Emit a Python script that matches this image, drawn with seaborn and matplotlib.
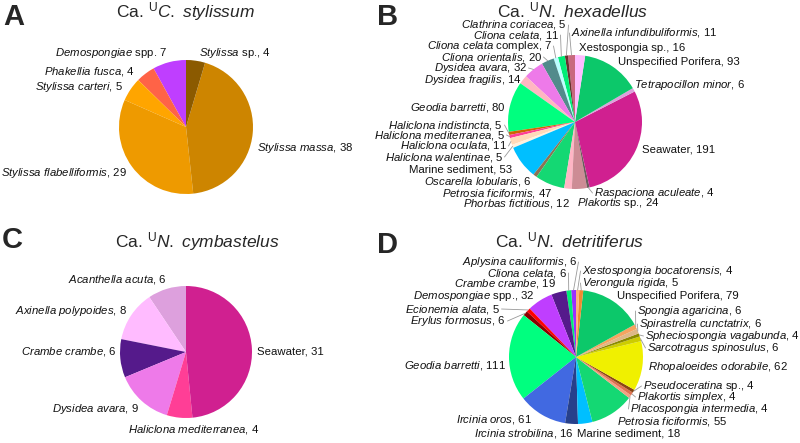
import numpy as np
import matplotlib
matplotlib.use("Agg")
import matplotlib.pyplot as plt
import seaborn as sns

sns.set_theme(style="white")
plt.rcParams['font.family'] = ['Liberation Sans', 'DejaVu Sans']
plt.rcParams['mathtext.fontset'] = 'custom'
plt.rcParams['mathtext.rm'] = 'Liberation Sans'
plt.rcParams['mathtext.it'] = 'Liberation Sans:italic'
plt.rcParams['mathtext.bf'] = 'Liberation Sans:bold'

# ---- data (slices listed counter-clockwise from 12 o'clock) ----
a_names = ["Demospongiae spp.", "Phakellia fusca", "Stylissa carteri",
           "Stylissa flabelliformis", "Stylissa massa", "Stylissa sp."]
a_values = [7, 4, 5, 29, 38, 4]
a_colors = ["#bf3eff", "#ff6347", "#ffa500", "#ee9a00", "#cd8500", "#8b5a00"]

b_names = ["Axinella infundibuliformis", "Clathrina coriacea", "Cliona celata",
           "Cliona celata complex", "Cliona orientalis", "Dysidea avara",
           "Dysidea fragilis", "Geodia barretti", "Haliclona indistincta",
           "Haliclona mediterranea", "Haliclona oculata", "Haliclona walentinae",
           "Marine sediment", "Oscarella lobularis", "Petrosia ficiformis",
           "Phorbas fictitious", "Plakortis sp.", "Raspaciona aculeate",
           "Seawater", "Tetrapocillon minor", "Unspecified Porifera",
           "Xestospongia sp."]
b_values = [11, 5, 11, 7, 20, 32, 14, 80, 5, 5, 11, 5, 53, 6, 47, 12, 24, 4,
            191, 6, 93, 16]
b_colors = ["#c8687e", "#6b3030", "#00ee76", "#bbffff", "#528b8b", "#ee7ae9",
            "#ffb6c1", "#00ff7f", "#cd6600", "#ff3e96", "#ffdab9", "#fff0dc",
            "#00bfff", "#8b7355", "#14d873", "#ffb5c5", "#cd8c95", "#6b5b5b",
            "#d02090", "#dda0dd", "#0cc86a", "#ffbbff"]

c_names = ["Acanthella acuta", "Axinella polypoides", "Crambe crambe",
           "Dysidea avara", "Haliclona mediterranea", "Seawater"]
c_values = [6, 8, 6, 9, 4, 31]
c_colors = ["#dda0dd", "#ffbbff", "#551a8b", "#ee7ae9", "#ff3e96", "#d02090"]

d_names = ["Aplysina cauliformis", "Cliona celata", "Crambe crambe",
           "Demospongiae spp.", "Ecionemia alata", "Erylus formosus",
           "Geodia barretti", "Ircinia oros", "Ircinia strobilina",
           "Marine sediment", "Petrosia ficiformis", "Placospongia intermedia",
           "Plakortis simplex", "Pseudoceratina sp.", "Rhopaloeides odorabile",
           "Sarcotragus spinosulus", "Spheciospongia vagabunda",
           "Spirastrella cunctatrix", "Spongia agaricina", "Unspecified Porifera",
           "Verongula rigida", "Xestospongia bocatorensis"]
d_values = [6, 6, 19, 32, 5, 6, 111, 61, 16, 18, 55, 4, 4, 4, 62, 6, 4, 6, 6,
            79, 5, 4]
d_colors = ["#9b30ff", "#00ee76", "#551a8b", "#bf3eff", "#ff0000", "#8b0000",
            "#00ff7f", "#4169e1", "#27408b", "#00bfff", "#14d873", "#f4a082",
            "#e07050", "#8b4513", "#f0f000", "#cdcd00", "#8b8b00", "#deb887",
            "#f4a460", "#0cc86a", "#f08a30", "#ffb07a"]

# ---- layout (figure pixels, origin top-left) ----
W, H = 800, 443
a_pos = [(167, 53, 'right'), (135, 71, 'right'), (123, 87, 'right'),
         (127, 173, 'right'), (257, 148, 'left'), (199, 53, 'left')]
b_pos = [(571, 33, 'left'), (567, 25, 'right'), (559, 35, 'right'),
         (552, 46, 'right'), (542, 57, 'right'), (527, 68, 'right'),
         (522, 80, 'right'), (506, 108, 'right'), (503, 125, 'right'),
         (505, 135, 'right'), (507, 146, 'right'), (503, 157, 'right'),
         (512, 169, 'right'), (532, 182, 'right'), (552, 193, 'right'),
         (570, 203, 'right'), (577, 203, 'left'), (594, 193, 'left'),
         (642, 149, 'left'), (634, 85, 'left'), (618, 62, 'left'),
         (579, 48, 'left')]
c_pos = [(167, 280, 'right'), (127, 311, 'right'), (117, 352, 'right'),
         (139, 409, 'right'), (128, 429, 'left'), (257, 352, 'left')]
d_pos = [(577, 262, 'right'), (567, 273, 'right'), (556, 284, 'right'),
         (535, 296, 'right'), (500, 309, 'right'), (506, 321, 'right'),
         (506, 366, 'right'), (532, 420, 'right'), (574, 433, 'right'),
         (577, 433, 'left'), (617, 421, 'left'), (630, 409, 'left'),
         (637, 397, 'left'), (643, 386, 'left'), (648, 367, 'left'),
         (647, 348, 'left'), (645, 336, 'left'), (639, 324, 'left'),
         (637, 311, 'left'), (617, 296, 'left'), (582, 283, 'left'),
         (582, 271, 'left')]

b_leaders = {"Axinella infundibuliformis", "Clathrina coriacea", "Cliona celata",
             "Cliona celata complex", "Cliona orientalis", "Dysidea avara",
             "Haliclona indistincta", "Haliclona mediterranea",
             "Haliclona oculata", "Haliclona walentinae", "Raspaciona aculeate"}
d_leaders = {"Aplysina cauliformis", "Cliona celata", "Ecionemia alata",
             "Erylus formosus", "Placospongia intermedia", "Plakortis simplex",
             "Pseudoceratina sp.", "Sarcotragus spinosulus",
             "Spheciospongia vagabunda", "Spirastrella cunctatrix",
             "Spongia agaricina", "Verongula rigida", "Xestospongia bocatorensis"}

UPRIGHT_NAMES = {"Seawater", "Marine sediment", "Unspecified Porifera",
                 "Xestospongia sp."}
UPRIGHT_WORDS = {"sp.", "spp.", "complex"}


def label(name, n, sep=", "):
    if name in UPRIGHT_NAMES:
        return f"{name}{sep}{n}"
    words = name.split()
    ital = [w for w in words if w not in UPRIGHT_WORDS]
    rest = [w for w in words if w in UPRIGHT_WORDS]
    s = r"$\mathit{" + r"\ ".join(ital) + "}$"
    if rest:
        s += " " + " ".join(rest)
    return s + sep + str(n)


fig = plt.figure(figsize=(W / 100, H / 100), dpi=100)


def add_pie(cx, cy, r, names, values, colors, positions, leaders=(), seps=None):
    ax = fig.add_axes([(cx - r) / W, 1 - (cy + r) / H, 2 * r / W, 2 * r / H])
    wedges, _ = ax.pie(values, colors=colors, startangle=90, counterclock=True,
                       wedgeprops=dict(linewidth=0))
    ax.set_xlim(-1, 1)
    ax.set_ylim(-1, 1)
    ax.axis('off')
    for i, (w, name, v, (px, py, ha)) in enumerate(zip(wedges, names, values, positions)):
        sep = seps[i] if seps else ", "
        tx, ty = (px - cx) / r, (cy - py) / r
        ax.text(tx, ty, label(name, v, sep), ha=ha, va='center', fontsize=8.2,
                color='#111111', clip_on=False)
        if name in leaders:
            mid = np.deg2rad((w.theta1 + w.theta2) / 2)
            ex, ey = np.cos(mid), np.sin(mid)
            sx = tx + (1.5 / r if ha == 'right' else -1.5 / r)
            ax.plot([sx, ex], [ty, ey], color='#999999', lw=0.6, clip_on=False)
    return ax


add_pie(186, 127, 67, a_names, a_values, a_colors, a_pos,
        seps=[" ", ", ", ", ", ", ", ", ", ", "])
add_pie(575, 122, 67, b_names, b_values, b_colors, b_pos, b_leaders)
add_pie(186, 352, 66, c_names, c_values, c_colors, c_pos)
add_pie(576, 357, 67, d_names, d_values, d_colors, d_pos, d_leaders)

titles = [(185, 17, r"Ca. ${}^{\mathrm{U}}\mathit{C.\ stylissum}$"),
          (573, 17, r"Ca. ${}^{\mathrm{U}}\mathit{N.\ hexadellus}$"),
          (197, 247, r"Ca. ${}^{\mathrm{U}}\mathit{N.\ cymbastelus}$"),
          (570, 247, r"Ca. ${}^{\mathrm{U}}\mathit{N.\ detritiferus}$")]
for x, y, t in titles:
    fig.text(x / W, 1 - y / H, t, ha='center', va='baseline', fontsize=12.5)

letters = [(3, 25, "A"), (377, 25, "B"), (2, 248, "C"), (377, 253, "D")]
for x, y, t in letters:
    fig.text(x / W, 1 - y / H, t, ha='left', va='baseline', fontsize=21,
             fontweight='bold')

fig.savefig("out.png", dpi=100)
